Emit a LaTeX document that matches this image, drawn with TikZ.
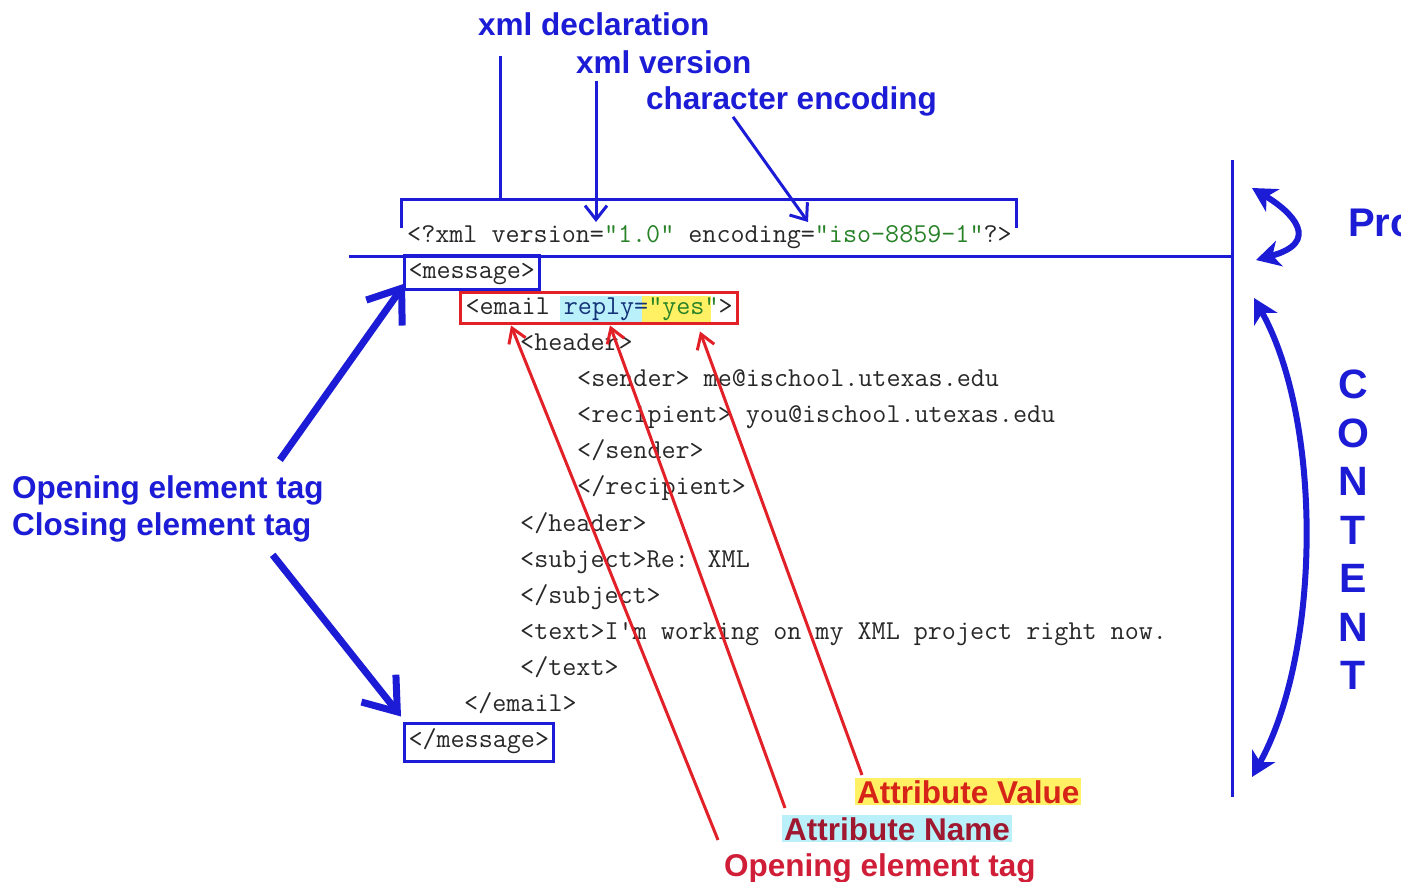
\documentclass[tikz,border=0pt]{standalone}
\usepackage{fontspec}
\newfontfamily\labelfont{Liberation Sans}
\usetikzlibrary{arrows.meta}

\definecolor{xmlblue}{RGB}{28,28,214}
\definecolor{xmlred}{RGB}{226,32,40}
\definecolor{valred}{RGB}{214,36,24}
\definecolor{namered}{RGB}{160,24,48}
\definecolor{tagred}{RGB}{208,30,56}
\definecolor{codegreen}{RGB}{40,130,40}
\definecolor{replyblue}{RGB}{20,50,120}
\definecolor{valyellow}{RGB}{255,240,100}
\definecolor{namecyan}{RGB}{185,240,250}
\definecolor{codegray}{RGB}{40,40,40}

\begin{document}
\begin{tikzpicture}[x=1pt,y=-1pt,
  lbl/.style={font={\labelfont\bfseries\fontsize{31.5}{36}\selectfont}, text=xmlblue, inner sep=0pt, anchor=base west},
  codeline/.style={font={\ttfamily\fontsize{27.3}{30}\selectfont}, text=codegray, inner sep=0pt, anchor=base west},
  bline/.style={xmlblue, line width=3pt},
  barrow/.style={xmlblue, line width=3pt, -{Straight Barb[length=14pt,width=22pt]}},
  fatarrow/.style={xmlblue, line width=7pt, -{Straight Barb[length=30pt,width=44pt]}},
  rarrow/.style={xmlred, line width=3pt, -{Straight Barb[length=14pt,width=18pt]}},
  curvearrow/.style={xmlblue, line width=6pt, {Stealth[length=24pt,width=26pt,inset=7pt]}-{Stealth[length=24pt,width=26pt,inset=7pt]}}]

\useasboundingbox (0,0) rectangle (1401,882);
\fill[white] (0,0) rectangle (1401,882);

% highlights in the email line
\fill[namecyan] (560,296) rectangle (642,322);
\fill[valyellow] (642,296) rectangle (711,322);

% code
\node[codeline] (xmldecl) at (407,243) {<?xml version=\textcolor{codegreen}{"1.0"} encoding=\textcolor{codegreen}{"iso-8859-1"}?>};
\node[codeline, draw=xmlblue, line width=3pt, inner xsep=4pt, inner ysep=3pt, text height=20pt, text depth=8pt] (msg) at (403,279) {<message>};
\node[codeline, draw=xmlred, line width=3pt, inner xsep=5pt, inner ysep=2pt, text height=20pt, text depth=7pt] (email) at (459,315) {<email \textcolor{replyblue}{reply=}\textcolor{codegreen}{"yes"}>};
\node[codeline] (header) at (520,351) {<header>};
\node[codeline] (sender) at (577,387) {<sender> me@ischool.utexas.edu};
\node[codeline] (recipient) at (577,423) {<recipient> you@ischool.utexas.edu};
\node[codeline] (endsender) at (577,459) {</sender>};
\node[codeline] (endrecipient) at (577,495) {</recipient>};
\node[codeline] (endheader) at (520,531) {</header>};
\node[codeline] (subject) at (520,567) {<subject>Re: XML};
\node[codeline] (endsubject) at (520,603) {</subject>};
\node[codeline] (text) at (520,639) {<text>I'm working on my XML project right now.};
\node[codeline] (endtext) at (520,675) {</text>};
\node[codeline] (endemail) at (464,711) {</email>};
\node[codeline, draw=xmlblue, line width=3pt, inner xsep=4pt, inner ysep=4pt, text height=20pt, text depth=10pt] (endmsg) at (403,747) {</message>};

% labels
\node[lbl] (decl) at (478,36) {xml declaration};
\node[lbl] (ver) at (576,74) {xml version};
\node[lbl] (enc) at (646,110) {character encoding};
\node[lbl] (opening) at (12,499) {Opening element tag};
\node[lbl] (closing) at (12,536) {Closing element tag};
\node[lbl, font={\labelfont\bfseries\fontsize{40}{46}\selectfont}] (prolog) at (1348,237) {Pro};
\node[lbl, anchor=center, align=center, font={\labelfont\bfseries\fontsize{41}{48.5}\selectfont}] (content) at (1353,530) {C\\O\\N\\T\\E\\N\\T};
\node[lbl, text=valred, fill=valyellow, inner sep=2pt] (attval) at (855,803) {Attribute Value};
\node[lbl, text=namered, fill=namecyan, inner sep=2pt] (attname) at (782,840) {Attribute Name};
\node[lbl, text=tagred] (opentag) at (724,876) {Opening element tag};

% declaration bracket and separators
\draw[bline] (401,228) -- (401,200) -- (1016,200) -- (1016,228);
\draw[bline] (349,257) -- (1233,257);
\draw[bline] (1232,160) -- (1232,797);

% top connectors
\coordinate (declbar) at (500,200);
\coordinate (vertip) at (596,222);
\coordinate (enctip) at (808,222);
\draw[bline, shorten <=19pt] (decl.south -| declbar) -- (declbar);
\draw[barrow, shorten <=6pt] (ver.south -| vertip) -- (vertip);
\draw[barrow] ([xshift=87pt]enc.south west) -- (enctip);

% element tags
\draw[fatarrow] ([shift={(-44,-16)}]opening.north east) -- ([shift={(2,-8)}]msg.south west);
\draw[fatarrow] ([shift={(-39,12)}]closing.south east) -- ([shift={(-2,-5)}]endmsg.north west);

% attribute arrows
\draw[rarrow] ([shift={(-6,-13)}]opentag.north west) -- ([xshift=52pt]email.south west);
\draw[rarrow] ([shift={(3,-7)}]attname.north west) -- ([xshift=151pt]email.south west);
\draw[rarrow] ([shift={(7,-3)}]attval.north west) -- ([shift={(241,6)}]email.south west);

% prolog / content
\draw[curvearrow] (1252,188) .. controls (1292,212) and (1322,242) .. (1256,260);
\draw[curvearrow] (1254,298) .. controls (1322,420) and (1322,650) .. (1252,777);

\end{tikzpicture}
\end{document}
